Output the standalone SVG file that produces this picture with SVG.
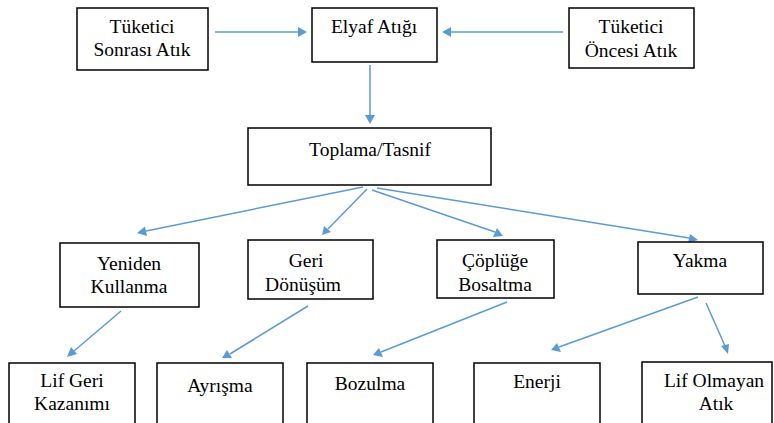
<svg xmlns="http://www.w3.org/2000/svg" width="774" height="423" viewBox="0 0 774 423">
<defs>
<style>
.box{fill:#fff;stroke:#000;stroke-width:1.5}
</style>
</defs>
<rect width="774" height="423" fill="#fff"/>
<g id="connectors" stroke="#5B9BD5" stroke-width="1.5">
<line x1="215" y1="32" x2="300" y2="32"/>
<path d="M298,27 L307,32 L298,37 z" fill="#5B9BD5" stroke="none"/>
<line x1="563" y1="32" x2="448" y2="32"/>
<path d="M451,27 L442,32 L451,37 z" fill="#5B9BD5" stroke="none"/>
<line x1="370" y1="65" x2="370" y2="116"/>
<path d="M365,115 L370,124 L375,115 z" fill="#5B9BD5" stroke="none"/>
<line x1="363" y1="187" x2="146" y2="231"/>
<path d="M145,226.5 L137,233 L147,236 z" fill="#5B9BD5" stroke="none"/>
<line x1="367" y1="189" x2="328" y2="229"/>
<path d="M324,226 L322,235 L331,232 z" fill="#5B9BD5" stroke="none"/>
<line x1="372" y1="190" x2="495" y2="232"/>
<path d="M497,228 L503,236 L493,237 z" fill="#5B9BD5" stroke="none"/>
<line x1="377" y1="188" x2="689" y2="238"/>
<path d="M690,234 L698,240 L688,243 z" fill="#5B9BD5" stroke="none"/>
<line x1="121" y1="311" x2="74" y2="351"/>
<path d="M71,347 L67,357 L77,354 z" fill="#5B9BD5" stroke="none"/>
<line x1="308" y1="306" x2="230" y2="354"/>
<path d="M227,350 L222,358 L232,358 z" fill="#5B9BD5" stroke="none"/>
<line x1="507" y1="302" x2="381" y2="352"/>
<path d="M379,348 L373,355 L383,357 z" fill="#5B9BD5" stroke="none"/>
<line x1="698" y1="297" x2="559" y2="347"/>
<path d="M557,343 L551,350 L561,352 z" fill="#5B9BD5" stroke="none"/>
<line x1="706" y1="303" x2="725" y2="346"/>
<path d="M721,346 L728,354 L729,344 z" fill="#5B9BD5" stroke="none"/>
</g>
<g id="nodes">
<g id="n-tuketici-sonrasi"><rect class="box" x="77" y="8" width="131" height="62"/><text font-family="Liberation Serif" font-size="19.5" text-anchor="middle" x="142" y="33">Tüketici</text><text font-family="Liberation Serif" font-size="19.5" text-anchor="middle" x="142" y="56">Sonrası Atık</text></g>
<g id="n-elyaf"><rect class="box" x="312" y="8" width="125" height="54"/><text font-family="Liberation Serif" font-size="19.5" text-anchor="middle" x="374" y="33">Elyaf Atığı</text></g>
<g id="n-tuketici-oncesi"><rect class="box" x="569" y="8" width="125" height="60"/><text font-family="Liberation Serif" font-size="19.5" text-anchor="middle" x="631" y="33">Tüketici</text><text font-family="Liberation Serif" font-size="19.5" text-anchor="middle" x="631" y="57">Öncesi Atık</text></g>
<g id="n-toplama"><rect class="box" x="248" y="128" width="243" height="57"/><text font-family="Liberation Serif" font-size="19.5" text-anchor="middle" x="370" y="156">Toplama/Tasnif</text></g>
<g id="n-yeniden"><rect class="box" x="60" y="243" width="139" height="64"/><text font-family="Liberation Serif" font-size="19.5" text-anchor="middle" x="129" y="270">Yeniden</text><text font-family="Liberation Serif" font-size="19.5" text-anchor="middle" x="129" y="293">Kullanma</text></g>
<g id="n-geri"><rect class="box" x="248" y="240" width="125" height="59"/><text font-family="Liberation Serif" font-size="19.5" text-anchor="middle" x="306" y="267">Geri</text><text font-family="Liberation Serif" font-size="19.5" text-anchor="middle" x="303" y="291">Dönüşüm</text></g>
<g id="n-coplugu"><rect class="box" x="437" y="240" width="117" height="58"/><text font-family="Liberation Serif" font-size="19.5" text-anchor="middle" x="495" y="267">Çöplüğe</text><text font-family="Liberation Serif" font-size="19.5" text-anchor="middle" x="495" y="291">Bosaltma</text></g>
<g id="n-yakma"><rect class="box" x="638" y="242" width="125" height="52"/><text font-family="Liberation Serif" font-size="19.5" text-anchor="middle" x="700" y="267">Yakma</text></g>
<g id="n-lif-geri"><rect class="box" x="9" y="363" width="126" height="62"/><text font-family="Liberation Serif" font-size="19.5" text-anchor="middle" x="72" y="387">Lif Geri</text><text font-family="Liberation Serif" font-size="19.5" text-anchor="middle" x="72" y="410">Kazanımı</text></g>
<g id="n-ayrisma"><rect class="box" x="157" y="363" width="126" height="62"/><text font-family="Liberation Serif" font-size="19.5" text-anchor="middle" x="220" y="392">Ayrışma</text></g>
<g id="n-bozulma"><rect class="box" x="307" y="363" width="126" height="62"/><text font-family="Liberation Serif" font-size="19.5" text-anchor="middle" x="370" y="390">Bozulma</text></g>
<g id="n-enerji"><rect class="box" x="474" y="363" width="126" height="62"/><text font-family="Liberation Serif" font-size="19.5" text-anchor="middle" x="537" y="388">Enerji</text></g>
<g id="n-lif-olmayan"><rect class="box" x="642" y="362" width="130" height="63"/><text font-family="Liberation Serif" font-size="19.5" text-anchor="middle" x="714" y="387">Lif Olmayan</text><text font-family="Liberation Serif" font-size="19.5" text-anchor="middle" x="716" y="410">Atık</text></g>
</g>
</svg>
